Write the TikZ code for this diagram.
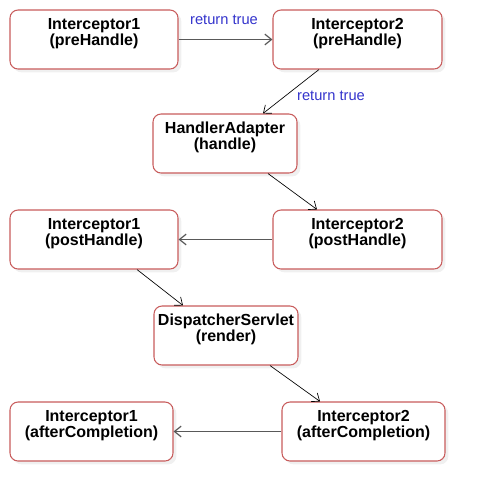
\documentclass[tikz,border=0pt]{standalone}
\usepackage{fontspec}
\setmainfont{Liberation Sans}
\usetikzlibrary{arrows.meta,shadows,calc}
\definecolor{boxred}{HTML}{C85C5C}
\definecolor{lblblue}{HTML}{3333CC}
\begin{document}
\begin{tikzpicture}[x=0.75pt,y=-0.75pt,
  box/.style={draw=boxred, line width=0.8pt, fill=white, rounded corners=6pt,
    align=center, font=\fontsize{12}{12}\selectfont\bfseries, inner sep=0pt,
    minimum height=44.25pt,
    drop shadow={opacity=0.12, shadow xshift=2.5pt, shadow yshift=-2.5pt}},
  hline/.style={draw=black!65, line width=0.9pt, -{Straight Barb[length=5pt,width=8pt]}},
  dline/.style={draw=black, line width=0.5pt, -{Straight Barb[length=5pt,width=8pt]}},
  lbl/.style={text=lblblue, font=\fontsize{11}{12}\selectfont, inner sep=0pt}]
\useasboundingbox (0,0) rectangle (485,501);
\node[box, minimum width=126pt] (a1) at (94,39.5) {Interceptor1\\(preHandle)\\\mbox{}};
\node[box, minimum width=126.75pt] (a2) at (357.5,39.5) {Interceptor2\\(preHandle)\\\mbox{}};
\node[box, minimum width=108pt] (ha) at (225,143.5) {HandlerAdapter\\(handle)\\\mbox{}};
\node[box, minimum width=126pt] (p1) at (94,239.5) {Interceptor1\\(postHandle)\\\mbox{}};
\node[box, minimum width=126.75pt] (p2) at (357.5,239.5) {Interceptor2\\(postHandle)\\\mbox{}};
\node[box, minimum width=108pt] (ds) at (226,335.5) {DispatcherServlet\\(render)\\\mbox{}};
\node[box, minimum width=122.25pt] (c1) at (91.5,431.5) {Interceptor1\\(afterCompletion)\\\mbox{}};
\node[box, minimum width=122.25pt] (c2) at (363.5,431.5) {Interceptor2\\(afterCompletion)\\\mbox{}};

\draw[hline] (a1.east) -- (a2.west);
\node[lbl] (l1) at (224,20) {return true};
\draw[dline] ([xshift=-28.9pt]a2.south) -- ([xshift=28.5pt]ha.north);
\node[lbl] (l2) at (331,96) {return true};
\draw[dline] ([xshift=32.25pt]ha.south) -- ([xshift=-30.4pt]p2.north);
\draw[hline] (p2.west) -- (p1.east);
\draw[dline] ([xshift=32.25pt]p1.south) -- ([xshift=-32.25pt]ds.north);
\draw[dline] ([xshift=33pt]ds.south) -- ([xshift=-32.6pt]c2.north);
\draw[hline] (c2.west) -- (c1.east);
\end{tikzpicture}
\end{document}
